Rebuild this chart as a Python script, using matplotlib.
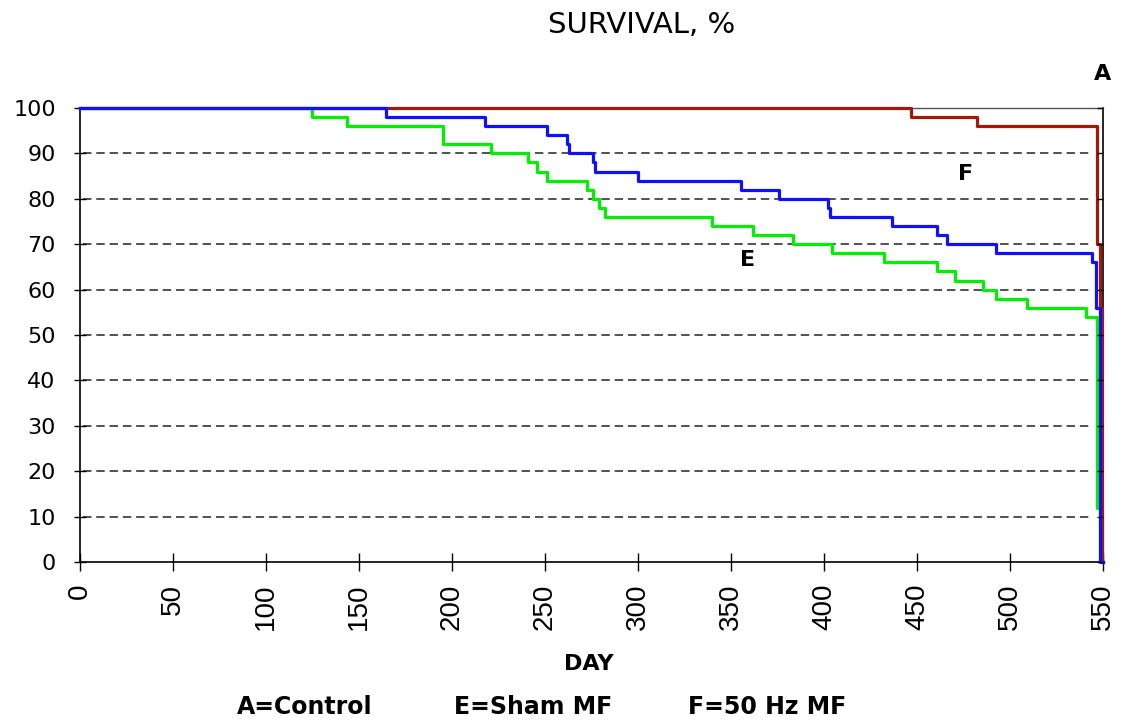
import matplotlib
matplotlib.use("Agg")
import matplotlib.pyplot as plt

# Data (days, survival %)
days_E = [0, 124.5, 143.5, 195, 221, 241, 245.5, 251, 272.5, 276, 279, 282, 340, 362,
          383.5, 404.5, 432.5, 460.5, 470.5, 485.5, 492.5, 509, 541, 547, 549.5, 550]
surv_E = [100, 98, 96, 92, 90, 88, 86, 84, 82, 80, 78, 76, 74, 72,
          70, 68, 66, 64, 62, 60, 58, 56, 54, 12, 0, 0]

days_A = [0, 164.5, 217.5, 251, 262, 263, 276, 277, 300, 355.5, 376, 402, 403,
          436.5, 460.5, 466, 492.5, 544, 546.5, 548.3, 550]
surv_A = [100, 98, 96, 94, 92, 90, 88, 86, 84, 82, 80, 78, 76,
          74, 72, 70, 68, 66, 56, 0, 0]

days_F = [0, 447, 482, 547, 548.5, 549.5, 550]
surv_F = [100, 98, 96, 70, 56, 0, 0]

x_ticks = list(range(0, 551, 50))
y_ticks = list(range(0, 101, 10))

plt.rcParams['font.family'] = ['DejaVu Sans']

fig = plt.figure(figsize=(11.26, 7.22), dpi=100)
ax = fig.add_axes([80/1126, 1-562/722, (1103-80)/1126, (562-108)/722])

for y in y_ticks[1:-1]:
    ax.axhline(y, xmin=0.003, xmax=0.99, color='#222222', lw=1.1,
               linestyle=(0, (5.5, 3.2)), zorder=1)

ax.step(days_E, surv_E, where='post', color='#00ee00', lw=2.3, zorder=3,
        clip_on=False)
ax.step(days_F, surv_F, where='post', color='#a01a08', lw=2.3, zorder=4,
        clip_on=False)
ax.step(days_A, surv_A, where='post', color='#1010ff', lw=2.3, zorder=5,
        clip_on=False)

ax.set_xlim(0, 550)
ax.set_ylim(0, 100)
ax.set_xticks(x_ticks)
ax.set_yticks(y_ticks)
ax.set_xticklabels([str(v) for v in x_ticks], rotation=90, fontsize=20,
                   family='Liberation Sans')
ax.set_yticklabels([str(v) for v in y_ticks], fontsize=16, family='DejaVu Sans')
ax.tick_params(axis='x', direction='inout', length=13, width=1, pad=9)
ax.tick_params(axis='y', direction='inout', length=9, width=1, pad=13)
for s in ax.spines.values():
    s.set_linewidth(1.2)
    s.set_color('black')
ax.spines['top'].set_color('#555555')
ax.spines['top'].set_linewidth(1)

# inward ticks on the right frame edge
ax2 = ax.twinx()
ax2.set_ylim(0, 100)
ax2.set_yticks(y_ticks)
ax2.tick_params(axis='y', direction='in', length=4, width=1, labelright=False)
for s in ax2.spines.values():
    s.set_visible(False)

fig.text(642/1126, 1-25/722, 'SURVIVAL, %', ha='center', va='center', fontsize=21)
fig.text(589/1126, 1-664/722, 'DAY', ha='center', va='center', fontsize=16,
         fontweight='bold')
fig.text(305/1126, 1-707/722, 'A=Control', ha='center', va='center', fontsize=17,
         fontweight='bold')
fig.text(533/1126, 1-707/722, 'E=Sham MF', ha='center', va='center', fontsize=17,
         fontweight='bold')
fig.text(767/1126, 1-707/722, 'F=50 Hz MF', ha='center', va='center', fontsize=17,
         fontweight='bold')
fig.text(1103/1126, 1-74/722, 'A', ha='center', va='center', fontsize=16,
         fontweight='bold')
ax.text(476, 85.5, 'F', ha='center', va='center', fontsize=16, fontweight='bold')
ax.text(359, 66.5, 'E', ha='center', va='center', fontsize=16, fontweight='bold')

fig.savefig('out.png', dpi=100, facecolor='white')
